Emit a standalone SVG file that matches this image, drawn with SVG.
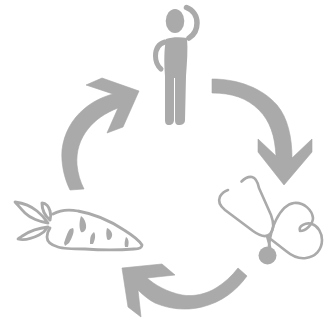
<svg xmlns="http://www.w3.org/2000/svg" width="328" height="321" viewBox="0 0 328 321">
<style>
.f{fill:#aaaaaa;stroke:none}
.a{fill:#aaaaaa;stroke:#a4a4a4;stroke-width:.6;stroke-linejoin:miter}
.s{fill:none;stroke:#aaaaaa;stroke-linecap:round;stroke-linejoin:round}
</style>
<rect width="328" height="321" fill="#ffffff"/>
<g id="connectors">
<path class="a" d="M212 79C238 79 262 88 277 105C288 118 292 138 292 158L312 139V152L284 185L258 152V139L276 156C275 136 270 121 259 110C247 98 232 93 212 93Z"/>
<path class="a" d="M247 276C236 291 222 302 202 307C186 311 169 309 155 303C149 300 143 295 138 290L141 317L128 307L122 268L162 264L175 275L147 278C155 285 167 292 182 295C194 297 206 294 216 288C224 283 232 276 238 268Z"/>
<path class="a" d="M70 190C64 178 61 163 62 150C64 133 72 119 84 109C92 102 102 97 113 94L86 85L102 78L139 91L123 127L107 133L118 108C105 113 95 120 88 129C80 139 76 151 77 165C78 174 80 181 84 189Z"/>
</g>
<g id="person">
<ellipse class="f" cx="175" cy="21" rx="9.300" ry="12"/>
<path class="s" stroke-width="5.500" d="M186.500 7.500C193 10 197 16 197 23C197 30 194 35 189 38"/>
<path class="s" stroke-width="5" d="M165 42C158 44 155.500 50 155.500 56C155.500 62 157.500 66 161 69"/>
<path class="f" d="M166 39C172 37 180 37 187 38C188 50 187 62 186 76L185 120C185 124 182 125 179 125C176 125 175 123 175 120L175 78H174L174 120C174 123 172 125 169 125C166 125 165 123 165 120L165 76C164 62 164 50 166 39Z"/>
</g>
<g id="stethoscope">
<circle class="f" cx="267.500" cy="255.500" r="9"/>
<path class="s" stroke-width="2.600" d="M241.500 181.500C245 178 249 176.500 252 177C256 178 258 183 259 188L271 215C274 223 274 230 270 234C266 238 260 236 253 231L225 210C220 206 218 201 220 196.500C222 193 225 191 228 190"/>
<path class="s" stroke-width="2.600" d="M267 236L270 247"/>
<path class="s" stroke-width="2.600" d="M269 246C270 236 272 228 276 220C280 212 286 204 294 203C304 202 312 210 313 218C313 224 306 231 300 231C298 226 306 222 312 224C318 226 322 233 322 240C322 250 315 257 306 258C299 259 292 256 286 251L268 237"/>
</g>
<g id="carrot">
<path class="s" stroke-width="2.800" d="M53 214C60 210 68 209 78 211C95 214 112 222 124 230C132 235 139 240 142 245C142 248 138 249 134 249C120 250 100 250 85 249C75 249 64 249 58 247C51 245 47 241 47 237C47 234 48 231 50 228"/>
<path class="s" stroke-width="2.800" d="M48 223C40 222 30 218 25 213C20 208 17 204 15 202C22 203 31 206 37 211C42 215 46 220 48 223Z"/>
<path class="s" stroke-width="3" d="M50 220C45 216 42 210 42 203C46 203 49 207 50 211C51 214 51 217 50 220Z"/>
<path class="s" stroke-width="2.800" d="M48 227C40 228 30 231 24 235C21 237 19 238 18 239C25 241 33 238 39 235C43 233 46 230 48 227Z"/>
<path class="f" d="M81 216C85 219 86.500 224 86 228C85 232 82 233 81 232C79 228 79 222 81 216Z"/>
<path class="f" d="M73 228C75 231 72 238 69 243L65 246L64 243C66 237 68 231 70 229Z"/>
<path class="f" d="M94 232C96 235 95 240 93 244L90 244C90 239 90 235 94 232Z"/>
<path class="f" d="M107 228C110 229 113 233 112 236C111 240 108 241 107 239C106 235 106 231 107 228Z"/>
<path class="f" d="M126 237C129 239 129 243 128 247L125 247C124 243 125 240 126 237Z"/>
</g>
</svg>
